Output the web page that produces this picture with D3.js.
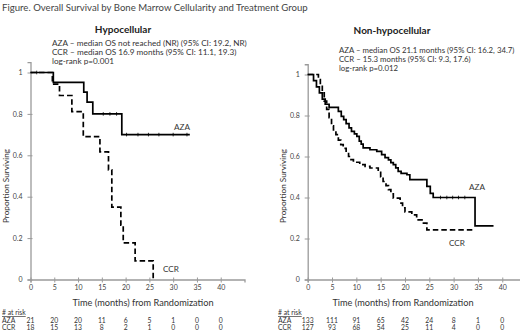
<!DOCTYPE html>
<html>
<head>
<meta charset="utf-8">
<script src="https://cdn.jsdelivr.net/npm/d3@7"></script>
<style>
  body { margin: 0; background: #fff; }
  svg { display: block; font-family: Lato, "Open Sans", sans-serif; }
</style>
</head>
<body>
<div id="chart"></div>
<script>
// ---- data ----
// Hypocellular
const hypoAzaTimes = [0, 4.8, 11.2, 11.9, 13.1, 19.2];
const hypoAzaSurv  = [1, 0.952, 0.905, 0.857, 0.8, 0.7];
const hypoAzaEnd = 33.5;
const hypoAzaCensor = [1.3, 15.3, 16.7, 18.1, 20.2, 22.6, 24.8, 27, 30, 32.9];

const hypoCcrTimes = [0, 4.6, 6.1, 8.7, 11.1, 14.6, 16.4, 17.1, 19.0, 19.5, 22.0, 25.8];
const hypoCcrSurv  = [1, 0.944, 0.889, 0.811, 0.69, 0.617, 0.53, 0.35, 0.263, 0.177, 0.09, 0];
const hypoCcrEnd = 25.8;

// Non-hypocellular
const nonAzaTimes = [0, 1.2, 1.8, 2.4, 3.0, 3.6, 4.4, 6.3, 6.9, 7.4, 7.9, 8.5, 9.0, 9.6, 10.1, 10.6, 11.0, 11.4,
  12.8, 14.2, 15.2, 15.9, 16.6, 17.1, 17.6, 18.1, 18.6, 19.2, 20.4, 21.0, 24.5, 25.2, 25.8, 34.4];
const nonAzaSurv = [1, 0.97, 0.94, 0.91, 0.88, 0.855, 0.84, 0.82, 0.796, 0.78, 0.76, 0.74, 0.723, 0.71, 0.698, 0.675, 0.66, 0.642,
  0.633, 0.625, 0.609, 0.595, 0.584, 0.57, 0.56, 0.545, 0.527, 0.518, 0.511, 0.487, 0.454, 0.42, 0.40, 0.262];
const nonAzaEnd = 38.2;
const nonAzaCensor = [27.3, 28.6, 29.8, 31.0, 32.3];

const nonCcrTimes = [0, 2.2, 2.6, 3.0, 3.4, 3.9, 4.4, 4.9, 5.3, 5.8, 6.3, 6.8, 7.3, 7.9, 8.4, 8.9, 9.4, 10.7, 11.8,
  12.8, 14.5, 15.0, 15.5, 16.1, 16.6, 17.1, 17.6, 19.0, 19.5, 20.0, 21.4, 22.4, 23.8, 24.5];
const nonCcrSurv = [1, 0.975, 0.95, 0.91, 0.87, 0.83, 0.79, 0.75, 0.73, 0.707, 0.68, 0.658, 0.64, 0.62, 0.60, 0.585, 0.572, 0.56, 0.552,
  0.544, 0.527, 0.50, 0.478, 0.458, 0.438, 0.418, 0.397, 0.373, 0.35, 0.33, 0.315, 0.291, 0.275, 0.242];
const nonCcrEnd = 34.0;

// axis ticks and number at risk
const xTicks = [0, 5, 10, 15, 20, 25, 30, 35, 40];
const yTicks = [0, 0.2, 0.4, 0.6, 0.8, 1];
const hypoRiskAza = [21, 20, 20, 11, 6, 5, 1, 0, 0];
const hypoRiskCcr = [18, 15, 13, 8, 2, 1, 0, 0, 0];
const nonRiskAza = [133, 111, 91, 65, 42, 24, 8, 1, 0];
const nonRiskCcr = [127, 93, 68, 54, 25, 11, 4, 0, 0];

const W = 520, H = 333;
const svg = d3.select('#chart').append('svg').attr('width', W).attr('height', H);

const textCol = '#333';

// Figure title
svg.append('text')
  .attr('x', 2).attr('y', 11)
  .attr('font-size', 9.6).attr('fill', '#444')
  .text('Figure. Overall Survival by Bone Marrow Cellularity and Treatment Group');

const panels = [
  {
    title: 'Hypocellular', titleX: 123, titleY: 33,
    notes: ['AZA \u2013 median OS not reached (NR) (95% CI: 19.2, NR)',
            'CCR \u2013 median OS 16.9 months (95% CI: 11.1, 19.3)',
            'log-rank p=0.001'],
    noteX: 52, noteY: 46, noteSize: 8.2,
    xr: [30.5, 244.5], y0: 279.5, y1: 72.5,
    yLabelX: 6, xLabelX: 143, riskLabelX: 2,
    aza: { t: hypoAzaTimes, s: hypoAzaSurv, end: hypoAzaEnd, censor: hypoAzaCensor },
    ccr: { t: hypoCcrTimes, s: hypoCcrSurv, end: hypoCcrEnd, censor: [] },
    azaLbl: [174, 130], ccrLbl: [163, 272],
    riskAza: hypoRiskAza, riskCcr: hypoRiskCcr
  },
  {
    title: 'Non-hypocellular', titleX: 392, titleY: 34,
    notes: ['AZA \u2013 median OS 21.1 months (95% CI: 16.2, 34.7)',
            'CCR \u2013 15.3 months (95% CI: 9.3, 17.6)',
            'log-rank p=0.012'],
    noteX: 339, noteY: 53, noteSize: 7.8,
    xr: [307.7, 526.6], y0: 279.5, y1: 74.5,
    yLabelX: 283, xLabelX: 403, riskLabelX: 278,
    aza: { t: nonAzaTimes, s: nonAzaSurv, end: nonAzaEnd, censor: nonAzaCensor },
    ccr: { t: nonCcrTimes, s: nonCcrSurv, end: nonCcrEnd, censor: [] },
    azaLbl: [469, 190], ccrLbl: [449, 246],
    riskAza: nonRiskAza, riskCcr: nonRiskCcr
  }
];

panels.forEach(p => {
  const g = svg.append('g');

  const x = d3.scaleLinear().domain([0, 45]).range(p.xr);
  const y = d3.scaleLinear().domain([0, 1]).range([p.y0, p.y1]);

  // title + notes
  g.append('text')
    .attr('x', p.titleX).attr('y', p.titleY)
    .attr('text-anchor', 'middle')
    .attr('font-size', 10).attr('font-weight', 'bold').attr('fill', '#222')
    .text(p.title);

  g.selectAll('.note')
    .data(p.notes).join('text')
    .attr('x', p.noteX).attr('y', (d, i) => p.noteY + i * 9)
    .attr('font-size', p.noteSize).attr('fill', textCol)
    .text(d => d);

  // axes
  const yAxis = g.append('g')
    .attr('transform', `translate(${p.xr[0]},0)`)
    .call(d3.axisLeft(y.copy().domain([0, 1.05]).range([p.y0, p.y0 - (p.y0 - p.y1) * 1.05]))
      .tickValues(yTicks).tickSize(3).tickPadding(5).tickFormat(d => String(d)));
  const xAxis = g.append('g')
    .attr('transform', `translate(0,${p.y0})`)
    .call(d3.axisBottom(x).tickValues(xTicks).tickSize(3).tickFormat(d => d));

  [yAxis, xAxis].forEach(a => {
    a.select('.domain').attr('stroke', '#9a9a9a').attr('stroke-width', 1.3);
    a.selectAll('.tick line').attr('stroke', '#9a9a9a');
    a.selectAll('.tick text').attr('fill', '#444').attr('font-size', 7)
      .attr('font-family', 'Lato, "Open Sans", sans-serif');
  });
  // ticks cross the axis lines a little
  xAxis.selectAll('.tick line').attr('y1', -2);
  yAxis.selectAll('.tick line').attr('x1', 2);

  // axis titles
  g.append('text')
    .attr('transform', `translate(${p.yLabelX},186) rotate(-90)`)
    .attr('dy', '0.35em')
    .attr('text-anchor', 'middle')
    .attr('font-size', 8.2).attr('fill', textCol)
    .text('Proportion Surviving');

  g.append('text')
    .attr('x', p.xLabelX).attr('y', 306)
    .attr('text-anchor', 'middle')
    .attr('font-size', 9.2).attr('fill', textCol)
    .text('Time (months) from Randomization');

  // survival curves
  const line = d3.line().x(d => x(d[0])).y(d => y(d[1])).curve(d3.curveStepAfter);
  const pts = c => {
    const a = c.t.map((t, i) => [t, c.s[i]]);
    a.push([c.end, c.s[c.s.length - 1]]);
    return a;
  };
  const survAt = (c, t) => {
    const i = d3.bisectRight(c.t, t) - 1;
    return c.s[Math.max(0, i)];
  };

  g.append('path')
    .attr('d', line(pts(p.ccr)))
    .attr('fill', 'none').attr('stroke', '#000').attr('stroke-width', 1.7)
    .attr('stroke-dasharray', '5.5,3');

  g.append('path')
    .attr('d', line(pts(p.aza)))
    .attr('fill', 'none').attr('stroke', '#000').attr('stroke-width', 1.7);

  // censoring marks
  g.selectAll('.cens')
    .data(p.aza.censor).join('line')
    .attr('x1', d => x(d)).attr('x2', d => x(d))
    .attr('y1', d => y(survAt(p.aza, d)) - 1.8)
    .attr('y2', d => y(survAt(p.aza, d)) + 1.8)
    .attr('stroke', '#000').attr('stroke-width', 0.8);

  // curve labels
  g.append('text').attr('x', p.azaLbl[0]).attr('y', p.azaLbl[1])
    .attr('font-size', 8.2).attr('fill', textCol).text('AZA');
  g.append('text').attr('x', p.ccrLbl[0]).attr('y', p.ccrLbl[1])
    .attr('font-size', 8.2).attr('fill', textCol).text('CCR');

  // number at risk table
  g.append('text')
    .attr('x', p.riskLabelX).attr('y', 315)
    .attr('font-size', 6.8).attr('fill', textCol)
    .attr('text-decoration', 'underline')
    .text('# at risk');
  [['AZA', p.riskAza, 322.5], ['CCR', p.riskCcr, 330]].forEach(([lbl, vals, yy]) => {
    g.append('text')
      .attr('x', p.riskLabelX).attr('y', yy)
      .attr('font-size', 6.8).attr('fill', textCol).text(lbl);
    g.selectAll(null)
      .data(vals).join('text')
      .attr('x', (d, i) => x(xTicks[i]))
      .attr('y', yy)
      .attr('text-anchor', 'middle')
      .attr('font-size', 6.8).attr('fill', textCol)
      .text(d => d);
  });
});
</script>
</body>
</html>
